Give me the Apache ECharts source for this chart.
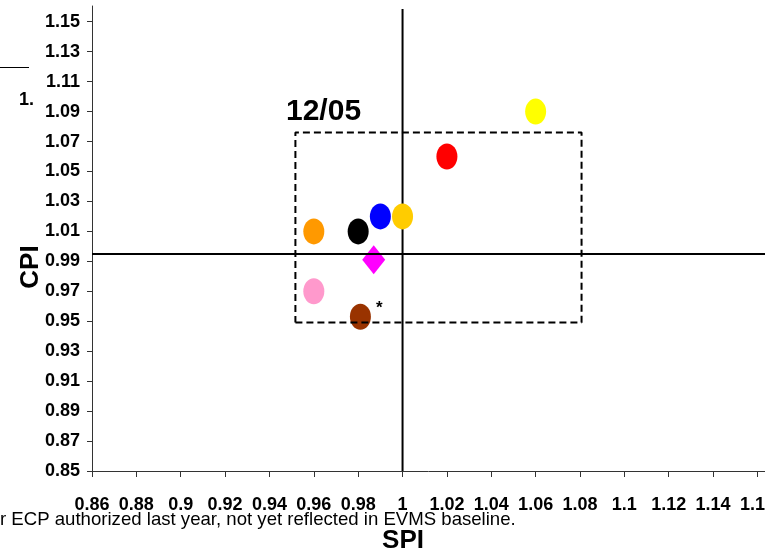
<!DOCTYPE html>
<html>
<head>
<meta charset="utf-8">
<script src="https://cdn.jsdelivr.net/npm/echarts@6/dist/echarts.min.js"></script>
<style>
html,body{margin:0;padding:0;background:#fff;}
#chart{width:765px;height:549px;}
</style>
</head>
<body>
<div id="chart"></div>
<script>
// ---- data ----
var pointNames = ['Yellow', 'Red', 'Gold', 'Blue', 'Black', 'Orange', 'Magenta', 'Pink', 'Brown'];
var spiValues  = [1.06, 1.02, 1.00, 0.99, 0.98, 0.96, 0.987, 0.96, 0.981];
var cpiValues  = [1.09, 1.06, 1.02, 1.02, 1.01, 1.01, 0.991, 0.97, 0.953];
var xTickValues = [0.86, 0.88, 0.9, 0.92, 0.94, 0.96, 0.98, 1, 1.02, 1.04, 1.06, 1.08, 1.1, 1.12, 1.14, 1.16];
var yTickValues = [0.85, 0.87, 0.89, 0.91, 0.93, 0.95, 0.97, 0.99, 1.01, 1.03, 1.05, 1.07, 1.09, 1.11, 1.13, 1.15];
var boxSpi = [0.9517, 1.0807];
var boxCpi = [0.9491, 1.0761];
var refSpi = 1.0;
var refCpi = 0.9948;
var refTopCpi = 1.1585;
var periodLabel = '12/05';
var footnote = 'r ECP authorized last year, not yet reflected in EVMS baseline.';
var starredPoint = 'Brown';

// ---- styles ----
var pointColors = ['#FFFF00', '#FF0000', '#FFCC00', '#0000FF', '#000000', '#FF9900', '#FF00FF', '#FF99CC', '#993300'];
var sans = "'Liberation Sans', Arial, sans-serif";

var scatterData = pointNames.map(function (n, i) {
  var isDiamond = n === 'Magenta';
  var item = {
    name: n,
    value: [spiValues[i], cpiValues[i]],
    symbol: isDiamond ? 'diamond' : 'circle',
    symbolSize: isDiamond ? [23, 29] : [21, 26],
    itemStyle: { color: pointColors[i], opacity: 1 }
  };
  if (n === starredPoint) {
    item.label = {
      show: true, formatter: '*', position: 'right',
      offset: [0, -8], fontSize: 17, fontWeight: 'bold', color: '#000',
      fontFamily: sans
    };
  }
  return item;
});

var boxData = [
  [boxSpi[0], boxCpi[0]], [boxSpi[1], boxCpi[0]], [boxSpi[1], boxCpi[1]],
  [boxSpi[0], boxCpi[1]], [boxSpi[0], boxCpi[0]]
];

var chart = echarts.init(document.getElementById('chart'), null, { renderer: 'canvas' });
chart.setOption({
  animation: false,
  backgroundColor: '#fff',
  grid: { left: 92, right: 0, top: 6, bottom: 78, containLabel: false, outerBoundsMode: 'none' },
  xAxis: {
    type: 'value', min: 0.86, max: 1.1634,
    splitLine: { show: false },
    axisLine: { show: true, onZero: false, lineStyle: { color: '#333', width: 1 } },
    axisTick: { show: true, length: 6, customValues: xTickValues, lineStyle: { color: '#333' } },
    axisLabel: {
      customValues: xTickValues, margin: 25, hideOverlap: false,
      showMinLabel: true, showMaxLabel: true,
      fontSize: 18, fontWeight: 'bold', color: '#000', fontFamily: sans,
      formatter: function (v) { return String(+(+v).toFixed(2)); }
    }
  },
  yAxis: {
    type: 'value', min: 0.85, max: 1.1605,
    splitLine: { show: false },
    axisLine: { show: true, onZero: false, lineStyle: { color: '#333', width: 1 } },
    axisTick: { show: true, length: 5, customValues: yTickValues, lineStyle: { color: '#333' } },
    axisLabel: {
      customValues: yTickValues, margin: 12, hideOverlap: false,
      showMinLabel: true, showMaxLabel: true,
      fontSize: 18, fontWeight: 'bold', color: '#000', fontFamily: sans,
      formatter: function (v) { return (+v).toFixed(2); }
    }
  },
  series: [
    {
      type: 'line', name: 'refV', data: [[refSpi, 0.85], [refSpi, refTopCpi]],
      symbol: 'none', lineStyle: { color: '#000', width: 2 }, z: 3, silent: true,
      markLine: {
        silent: true, symbol: 'none', label: { show: false }, precision: 4,
        lineStyle: { color: '#000', width: 2, type: 'solid' },
        data: [{ yAxis: refCpi }]
      }
    },
    {
      type: 'scatter', name: 'points', data: scatterData, z: 4
    },
    {
      type: 'line', name: 'box', data: boxData, symbol: 'none', z: 5, silent: true,
      lineStyle: { color: '#000', width: 2, type: [7, 4] }
    }
  ],
  graphic: [
    { type: 'text', left: 286, top: 97,
      style: { text: periodLabel, font: "bold 30px " + sans, fill: '#000' } },
    { type: 'text', x: 31, y: 267, rotation: Math.PI / 2,
      style: { text: 'CPI', font: "bold 26px " + sans, fill: '#000', align: 'center', verticalAlign: 'middle' } },
    { type: 'text', x: 403, y: 528,
      style: { text: 'SPI', font: "bold 26px " + sans, fill: '#000', align: 'center', verticalAlign: 'top' } },
    { type: 'text', x: 0, y: 510,
      style: { text: footnote, font: "18.6px " + sans, fill: '#000', verticalAlign: 'top' } },
    { type: 'text', x: 19, y: 91,
      style: { text: '1.', font: 'bold 18px ' + sans, fill: '#000', verticalAlign: 'top' } },
    { type: 'line', shape: { x1: 0, y1: 67.5, x2: 29, y2: 67.5 }, style: { stroke: '#000', lineWidth: 1 } }
  ]
});
</script>
</body>
</html>
